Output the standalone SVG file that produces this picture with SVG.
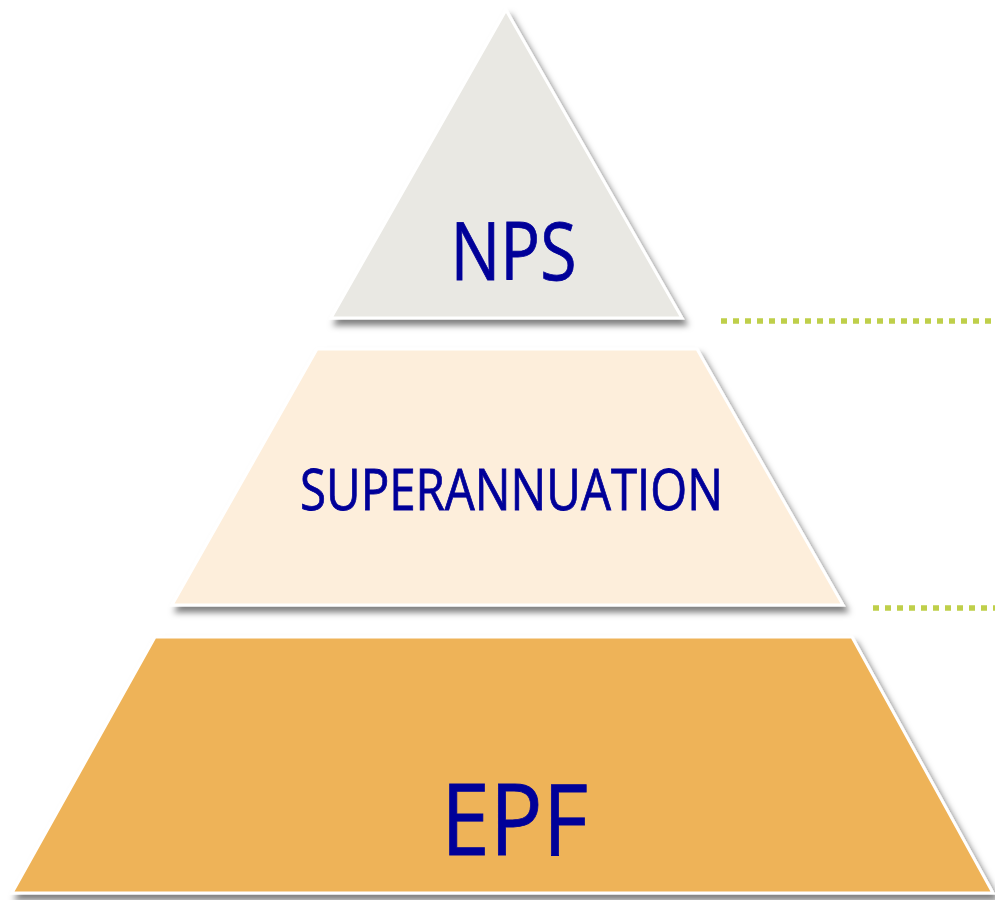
<svg xmlns="http://www.w3.org/2000/svg" width="995" height="900" viewBox="0 0 995 900">
  <defs>
    <filter id="shadow" x="-10%" y="-10%" width="130%" height="130%">
      <feDropShadow dx="4" dy="6" stdDeviation="3" flood-color="#000" flood-opacity="0.5"/>
    </filter>
  </defs>
  <style>
    .tier { stroke: #ffffff; stroke-width: 3; stroke-linejoin: miter; filter: url(#shadow); }
    .label { font-family: "Open Sans", "Noto Sans", "DejaVu Sans", sans-serif; fill: #000099; stroke: #000099; stroke-width: 0.8; text-anchor: middle; }
    .guide { stroke: #bfcf4a; stroke-width: 5.5; stroke-dasharray: 6 6; fill: none; }
  </style>
  <rect width="995" height="900" fill="#ffffff"/>

  <!-- dotted guide lines to the right of the tiers -->
  <g id="connectors">
    <line class="guide" x1="721" y1="321" x2="995" y2="321"/>
    <line class="guide" x1="873" y1="608" x2="995" y2="608"/>
  </g>

  <g id="nps">
    <polygon class="tier" points="506,10 682,318 331,318" fill="#e9e8e3"/>
    <text class="label" x="513.5" y="280" font-size="81" textLength="126" lengthAdjust="spacingAndGlyphs">NPS</text>
  </g>

  <g id="superannuation">
    <polygon class="tier" points="317,349 697,349 843,605 172,605" fill="#fdeedb"/>
    <text class="label" x="511.5" y="510" font-size="56" textLength="423" lengthAdjust="spacingAndGlyphs">SUPERANNUATION</text>
  </g>

  <g id="epf">
    <polygon class="tier" points="155,637 852,637 993,893 12,893" fill="#eeb358"/>
    <text class="label" x="514.5" y="855" font-size="98" textLength="147" lengthAdjust="spacingAndGlyphs">EPF</text>
  </g>
</svg>
